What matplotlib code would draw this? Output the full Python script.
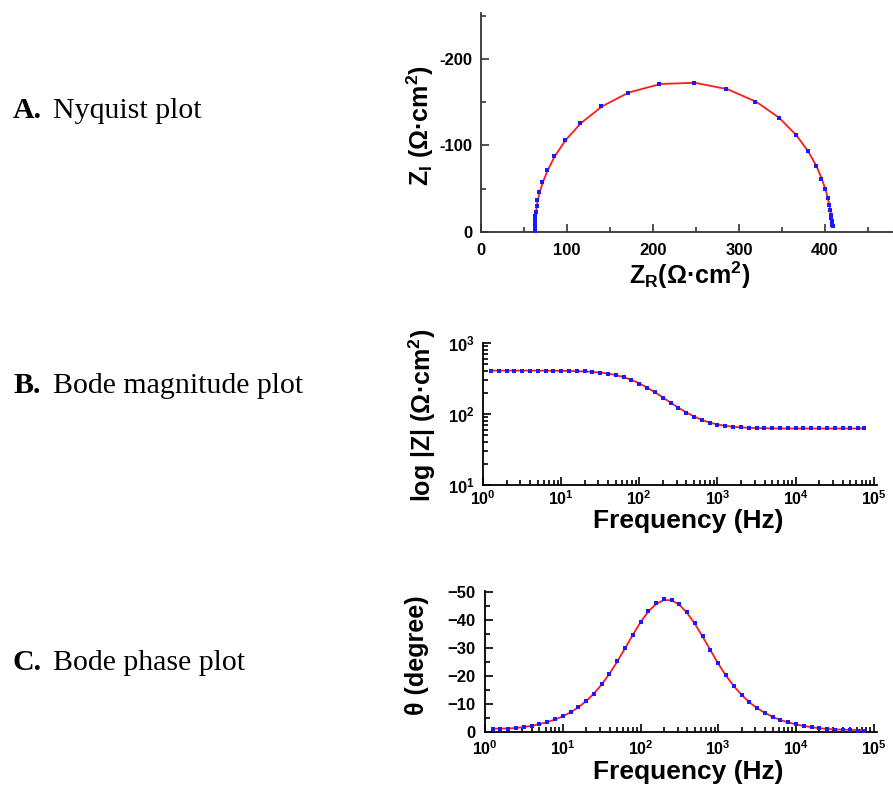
import numpy as np
from matplotlib import pyplot as plt
import matplotlib as mpl
from matplotlib.ticker import MultipleLocator, LogLocator, NullFormatter

plt.rcParams['font.family'] = 'Liberation Sans'
plt.rcParams['font.weight'] = 'bold'
plt.rcParams['mathtext.fontset'] = 'custom'
plt.rcParams['mathtext.rm'] = 'Liberation Sans:bold'
plt.rcParams['mathtext.it'] = 'Liberation Sans:bold'
plt.rcParams['mathtext.bf'] = 'Liberation Sans:bold'
plt.rcParams['mathtext.default'] = 'rm'

# frecuencias (Hz)
freq = [1.26, 1.58, 2.0, 2.51, 3.16, 3.98, 5.01, 6.31, 7.94, 10.0,
        12.6, 15.8, 20.0, 25.1, 31.6, 39.8, 50.1, 63.1, 79.4, 100,
        126, 158, 200, 251, 316, 398, 501, 631, 794, 1000,
        1259, 1585, 1995, 2512, 3162, 3981, 5012, 6310, 7943, 10000,
        12589, 15849, 19953, 25119, 31623, 39811, 50119, 63096, 75000]

# datos medidos: Z real y -Z imaginaria (ohm cm2)
z_re = [408.9, 408.7, 408.5, 408.3, 408.0, 407.6, 407.0, 406.0, 404.8, 403.0,
        400.2, 396.0, 389.5, 380.0, 366.0, 346.0, 319.0, 285.5, 247.5, 207.5,
        170.5, 140.0, 115.0, 97.5, 85.0, 76.8, 71.3, 67.8, 65.5, 64.6,
        63.7, 63.2, 62.9, 62.7, 62.6, 62.55, 62.5, 62.5, 62.5, 62.5,
        62.5, 62.5, 62.5, 62.5, 62.5, 62.5, 62.5, 62.5, 62.5]
z_im = [7.0, 7.6, 8.6, 10.3, 12.8, 16.0, 20.1, 25.3, 31.7, 39.7,
        49.6, 61.5, 76.3, 93.0, 112.0, 131.9, 150.5, 165.0, 172.4, 171.0,
        161.1, 145.3, 125.6, 106.1, 87.7, 71.4, 57.7, 46.3, 37.0, 29.5,
        23.5, 18.7, 14.9, 11.8, 9.4, 7.5, 5.9, 4.7, 3.75, 2.98,
        2.36, 1.88, 1.49, 1.18, 0.94, 0.75, 0.62, 0.55, 0.5]

# ajuste (linea roja)
fit_re = [408.9, 408.8, 408.6, 408.4, 408.1, 407.7, 407.1, 406.2, 405.0, 403.3,
          400.5, 396.4, 390.0, 380.6, 366.6, 346.8, 320.0, 286.6, 248.6, 208.8,
          171.7, 141.1, 116.0, 98.4, 85.9, 77.6, 72.0, 68.4, 66.0, 64.9,
          64.0, 63.4, 63.0, 62.8, 62.7, 62.6, 62.5, 62.5, 62.5, 62.5,
          62.5, 62.5, 62.5, 62.5, 62.5, 62.5, 62.5, 62.5, 62.5]
fit_im = [8.5, 8.6, 9.0, 10.4, 12.7, 15.9, 20.0, 25.2, 31.6, 39.6,
          49.5, 61.4, 76.3, 93.0, 112.0, 131.9, 150.5, 165.0, 172.4, 171.0,
          161.1, 145.3, 125.6, 106.1, 87.7, 71.4, 57.7, 46.3, 37.0, 29.5,
          23.5, 18.7, 14.9, 11.8, 9.4, 7.5, 5.9, 4.7, 3.75, 2.98,
          2.36, 1.88, 1.49, 1.2, 1.0, 0.9, 0.85, 0.8, 0.8]

freq = np.array(freq)
z_re, z_im = np.array(z_re), np.array(z_im)
fit_re, fit_im = np.array(fit_re), np.array(fit_im)
z_mod = np.hypot(z_re, z_im)
fit_mod = np.hypot(fit_re, fit_im)
z_ph = np.degrees(np.arctan2(z_im, z_re))
fit_ph = np.degrees(np.arctan2(fit_im, fit_re))

W, H = 893, 785
fig = plt.figure(figsize=(W/100, H/100), dpi=100)

def px_axes(l, t, r, b):
    return fig.add_axes([l/W, 1-b/H, (r-l)/W, (b-t)/H])

def px_text(x, y, s, **kw):
    fig.text(x/W, 1-y/H, s, **kw)

def style(ax, color='black'):
    for s in ['top', 'right']:
        ax.spines[s].set_visible(False)
    for s in ['left', 'bottom']:
        ax.spines[s].set_linewidth(1.3)
        ax.spines[s].set_color(color)
    ax.tick_params(which='both', direction='in', width=1.2, color=color,
                   labelsize=12)
    ax.tick_params(which='major', length=6, pad=6)
    ax.tick_params(which='minor', length=3.5)

red = '#ff1a1a'
blue = '#1a1aff'
lab = dict(fontsize=18, fontweight='bold', ha='center', va='center')
flab = dict(fontsize=19, fontweight='bold', ha='center', va='baseline')

# A. Nyquist
axA = px_axes(481, 13, 892, 232)
style(axA, '#333333')
axA.tick_params(axis='x', which='major', pad=8)
axA.plot(fit_re, -fit_im, color=red, lw=1.3, zorder=2)
axA.plot(z_re, -z_im, 's', color=blue, ms=2.5, mew=0, zorder=3)
axA.set_xlim(0, 478)
axA.set_ylim(0, -253)
axA.set_xticks([0, 100, 200, 300, 400])
axA.set_yticks([0, -100, -200], ['0', '-100', '-200'])
axA.xaxis.set_minor_locator(MultipleLocator(50))
axA.yaxis.set_minor_locator(MultipleLocator(50))
px_text(420, 126, r'Z$_{I}$ (Ω·cm$^{2}$)', rotation=90, **lab)
px_text(690, 275, r'Z$_{R}$(Ω·cm$^{2}$)', **lab)

# B. Bode magnitud
dec = [r'$\mathbf{10^{%d}}$' % i for i in range(6)]
axB = px_axes(483, 343, 877, 485)
style(axB)
axB.tick_params(axis='x', which='major', pad=3, labelsize=11.5)
axB.loglog(freq, fit_mod, color=red, lw=1.3, zorder=2)
axB.loglog(freq, z_mod, 's', color=blue, ms=2.5, mew=0, zorder=3)
axB.set_xlim(1, 1.1e5)
axB.set_ylim(10, 1000)
axB.set_xticks([1, 10, 100, 1e3, 1e4, 1e5], dec)
axB.set_yticks([10, 100, 1000], dec[1:4])
for a in (axB.xaxis, axB.yaxis):
    a.set_minor_locator(LogLocator(base=10, subs=np.arange(2, 10)))
    a.set_minor_formatter(NullFormatter())
px_text(422, 415, r'log |Z| (Ω·cm$^{2}$)', rotation=90, **lab)
px_text(688, 528, 'Frequency (Hz)', **flab)

# C. Bode fase
axC = px_axes(485, 591, 877, 732)
style(axC)
axC.tick_params(axis='x', which='major', pad=5, labelsize=11.5)
axC.tick_params(axis='y', which='major', pad=7)
axC.semilogx(freq, -fit_ph, color=red, lw=1.3, zorder=2)
axC.semilogx(freq, -z_ph, 's', color=blue, ms=2.5, mew=0, zorder=3)
axC.set_xlim(1, 1.1e5)
axC.set_ylim(0, -50.5)
axC.set_xticks([1, 10, 100, 1e3, 1e4, 1e5], dec)
axC.set_yticks([0, -10, -20, -30, -40, -50])
axC.yaxis.set_minor_locator(MultipleLocator(5))
axC.xaxis.set_minor_locator(LogLocator(base=10, subs=np.arange(2, 10)))
axC.xaxis.set_minor_formatter(NullFormatter())
px_text(417, 655, 'θ (degree)', rotation=90, **lab)
px_text(688, 779, 'Frequency (Hz)', **flab)

# textos de la izquierda
serif = dict(fontsize=21.5, family='Liberation Serif', va='baseline')
for y, letra, texto in [(118, 'A.', 'Nyquist plot'),
                        (393, 'B.', 'Bode magnitude plot'),
                        (670, 'C.', 'Bode phase plot')]:
    px_text(13, y, letra, fontweight='bold', **serif)
    px_text(53, y, texto, fontweight='normal', **serif)

fig.savefig('out.png', dpi=100)
